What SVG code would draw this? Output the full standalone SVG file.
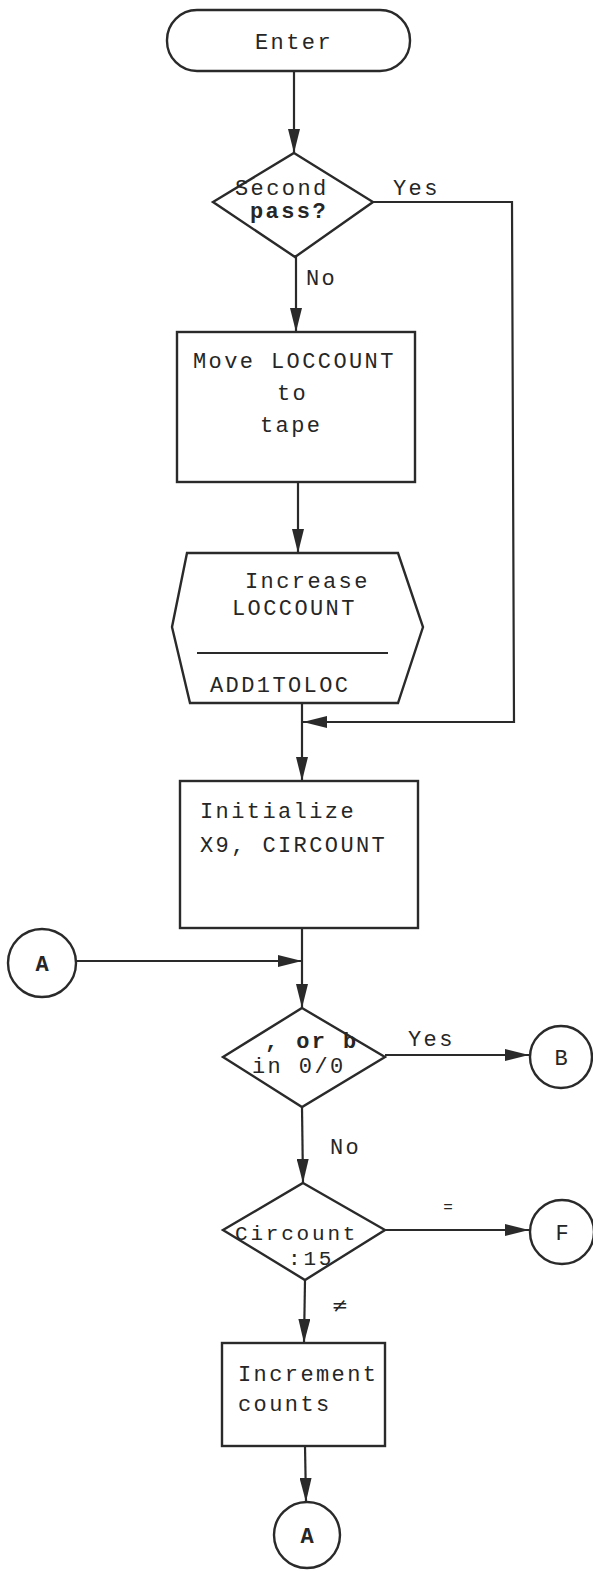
<svg xmlns="http://www.w3.org/2000/svg" width="593" height="1571" viewBox="0 0 593 1571">
<defs>
<style>
.s{fill:#fff;stroke:#2a2a2a;stroke-width:2.4}
.c{fill:none;stroke:#2a2a2a;stroke-width:2.2}
.t{font-family:"Liberation Mono","DejaVu Sans Mono",monospace;font-size:22px;letter-spacing:2.4px;fill:#262626}
.b{font-weight:bold}
.m{text-anchor:middle;letter-spacing:0}
</style>
<marker id="ah" markerUnits="userSpaceOnUse" markerWidth="24" markerHeight="12" refX="24" refY="6" orient="auto">
<path d="M0,0 L24,6 L0,12 z" fill="#2a2a2a"/>
</marker>
</defs>
<rect width="593" height="1571" fill="#fff"/>
<g id="connectors">
<line class="c" x1="294" y1="71" x2="294" y2="153" marker-end="url(#ah)"/>
<line class="c" x1="296" y1="257" x2="296" y2="332" marker-end="url(#ah)"/>
<polyline class="c" points="373,202 512,202 514,722 303,722" marker-end="url(#ah)"/>
<line class="c" x1="298" y1="482" x2="298" y2="553" marker-end="url(#ah)"/>
<line class="c" x1="302" y1="703" x2="302" y2="781" marker-end="url(#ah)"/>
<line class="c" x1="302" y1="928" x2="302" y2="1008" marker-end="url(#ah)"/>
<line class="c" x1="76" y1="961" x2="302" y2="961" marker-end="url(#ah)"/>
<line class="c" x1="385" y1="1055" x2="529" y2="1055" marker-end="url(#ah)"/>
<line class="c" x1="302" y1="1107" x2="303" y2="1183" marker-end="url(#ah)"/>
<line class="c" x1="385" y1="1230" x2="529" y2="1230" marker-end="url(#ah)"/>
<line class="c" x1="305" y1="1280" x2="304" y2="1343" marker-end="url(#ah)"/>
<line class="c" x1="305" y1="1446" x2="306" y2="1502" marker-end="url(#ah)"/>
<text class="t" x="393" y="195">Yes</text>
<text class="t" x="306" y="285">No</text>
<text class="t" x="408" y="1046">Yes</text>
<text class="t" x="330" y="1154">No</text>
<text class="t m" x="448" y="1212" style="font-size:16px">=</text>
<text class="t m" x="340" y="1312" style="font-family:'DejaVu Sans',sans-serif;font-size:20px">≠</text>
</g>
<g id="enter">
<rect class="s" x="167" y="10" width="243" height="61" rx="30" ry="30"/>
<text class="t" x="255" y="49">Enter</text>
</g>
<g id="second-pass">
<polygon class="s" points="294,153 373,202 295,257 213,202"/>
<text class="t" x="235" y="195">Second</text>
<text class="t b" x="250" y="218">pass?</text>
</g>
<g id="move-loccount">
<rect class="s" x="177" y="332" width="238" height="150"/>
<text class="t" x="193" y="368">Move LOCCOUNT</text>
<text class="t" x="277" y="400">to</text>
<text class="t" x="260" y="432">tape</text>
</g>
<g id="increase-loccount">
<polygon class="s" points="187,553 398,553 423,627 398,703 190,703 172,627"/>
<line class="c" x1="197" y1="653" x2="388" y2="653"/>
<text class="t" x="245" y="588">Increase</text>
<text class="t" x="232" y="615">LOCCOUNT</text>
<text class="t" x="210" y="692">ADD1TOLOC</text>
</g>
<g id="initialize">
<rect class="s" x="180" y="781" width="238" height="147"/>
<text class="t" x="200" y="818">Initialize</text>
<text class="t" x="200" y="852">X9, CIRCOUNT</text>
</g>
<g id="connector-a-in">
<circle class="s" cx="42" cy="963" r="34"/>
<text class="t m b" x="42" y="971">A</text>
</g>
<g id="or-b">
<polygon class="s" points="302,1008 385,1057 302,1107 223,1057"/>
<text class="t b" x="265" y="1048">, or b</text>
<text class="t" x="252" y="1073">in 0/0</text>
</g>
<g id="connector-b">
<circle class="s" cx="561" cy="1057" r="31"/>
<text class="t m" x="561" y="1065">B</text>
</g>
<g id="circount">
<polygon class="s" points="303,1183 385,1230 305,1280 223,1230"/>
<text class="t" x="235" y="1240" style="font-size:21px;letter-spacing:2.8px">Circount</text>
<text class="t" x="288" y="1265" style="font-size:21px;letter-spacing:2.8px">:15</text>
</g>
<g id="connector-f">
<circle class="s" cx="562" cy="1232" r="32"/>
<text class="t m" x="562" y="1240">F</text>
</g>
<g id="increment-counts">
<rect class="s" x="222" y="1343" width="163" height="103"/>
<text class="t" x="238" y="1381">Increment</text>
<text class="t" x="238" y="1411">counts</text>
</g>
<g id="connector-a-out">
<circle class="s" cx="307" cy="1535" r="33"/>
<text class="t m b" x="307" y="1543">A</text>
</g>
</svg>
